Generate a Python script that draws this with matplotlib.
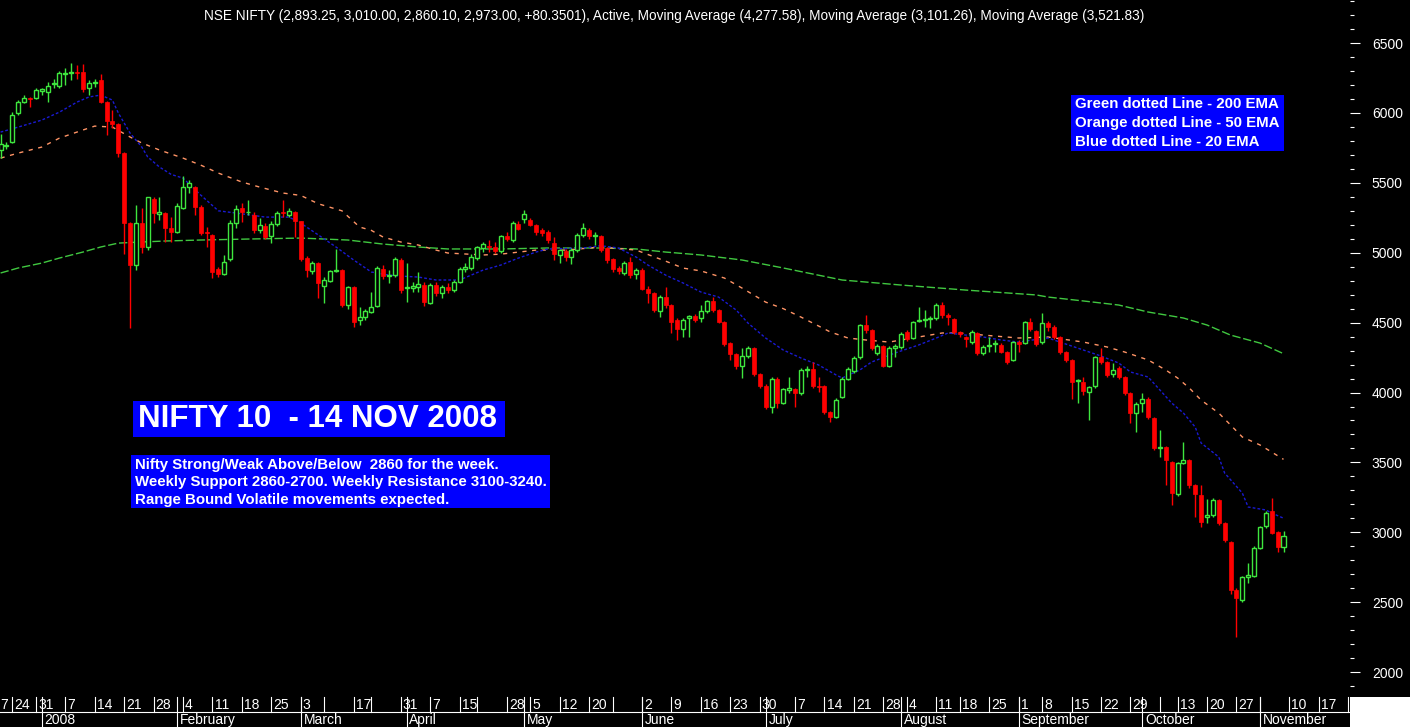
import matplotlib
matplotlib.use("Agg")
import matplotlib.pyplot as plt
from matplotlib.lines import Line2D
from matplotlib.patches import Rectangle
from matplotlib.transforms import blended_transform_factory
from matplotlib.ticker import MultipleLocator

plt.rcParams['font.family'] = ['Liberation Sans', 'DejaVu Sans']

# NSE NIFTY daily candles, 19 Dec 2007 .. 7 Nov 2008 (one entry per trading day)
opens = [5735, 5765, 5790, 5999, 6078, 6110, 6106, 6160, 6150, 6205,
         6193, 6280, 6285, 6295, 6293, 6178, 6215, 6235, 6078, 5942,
         5921, 5713, 5213, 4912, 5213, 5040, 5384, 5280, 5284, 5177,
         5150, 5320, 5470, 5470, 5327, 5145, 5127, 4883, 4848, 4955,
         5213, 5320, 5288, 5270, 5163, 5191, 5120, 5205, 5290, 5270,
         5290, 5227, 4962, 4870, 4926, 4762, 4798, 4872, 4876, 4626,
         4755, 4519, 4540, 4576, 4619, 4883, 4835, 4840, 4948, 4750,
         4747, 4755, 4769, 4640, 4769, 4712, 4755, 4733, 4790, 4883,
         4891, 4962, 5034, 5050, 5041, 5012, 5120, 5091, 5205, 5241,
         5234, 5198, 5160, 5148, 5069, 4984, 5012, 4969, 5019, 5127,
         5162, 5120, 5120, 5034, 4955, 4890, 4855, 4933, 4850, 4876,
         4740, 4712, 4583, 4683, 4626, 4519, 4455, 4530, 4545, 4533,
         4580, 4655, 4590, 4505, 4354, 4275, 4190, 4261, 4318, 4132,
         4047, 3896, 4096, 3925, 4018, 4025, 3996, 4161, 4168, 4050,
         4047, 3861, 3825, 3968, 4096, 4154, 4254, 4483, 4447, 4283,
         4333, 4190, 4318, 4325, 4433, 4390, 4512, 4520, 4526, 4533,
         4626, 4555, 4526, 4430, 4397, 4361, 4426, 4283, 4330, 4350,
         4340, 4290, 4233, 4360, 4354, 4505, 4440, 4361, 4497, 4469,
         4397, 4290, 4233, 4082, 4075, 4002, 4047, 4254, 4218, 4133,
         4175, 4110, 3996, 3853, 3925, 3954, 3818, 3603, 3610, 3503,
         3274, 3496, 3518, 3338, 3267, 3110, 3124, 3231, 3066, 2932,
         2587, 2516, 2680, 2690, 2888, 3045, 3152, 3002, 2893.25]
highs = [5850, 5790, 6006, 6090, 6125, 6114, 6175, 6180, 6221, 6242,
         6300, 6321, 6357, 6340, 6350, 6235, 6240, 6278, 6085, 6021,
         5930, 5720, 5220, 5340, 5320, 5400, 5400, 5398, 5290, 5255,
         5355, 5549, 5520, 5480, 5340, 5184, 5135, 4900, 4984, 5234,
         5340, 5355, 5377, 5290, 5245, 5215, 5225, 5300, 5377, 5320,
         5300, 5230, 4980, 4940, 4935, 4826, 4880, 5026, 4885, 4765,
         4760, 4612, 4595, 4719, 4905, 4912, 4876, 4969, 4960, 4930,
         4790, 4862, 4790, 4780, 4790, 4770, 4780, 4805, 4900, 4925,
         4990, 5050, 5077, 5090, 5077, 5130, 5145, 5225, 5230, 5305,
         5250, 5205, 5175, 5160, 5110, 5030, 5030, 5035, 5140, 5210,
         5177, 5148, 5130, 5040, 4960, 4905, 4940, 4969, 4890, 4890,
         4760, 4720, 4697, 4755, 4630, 4530, 4530, 4555, 4560, 4626,
         4665, 4683, 4600, 4510, 4360, 4285, 4318, 4330, 4325, 4140,
         4060, 4110, 4110, 4035, 4110, 4035, 4175, 4190, 4218, 4110,
         4055, 3870, 3960, 4110, 4180, 4260, 4490, 4555, 4455, 4350,
         4340, 4330, 4345, 4430, 4445, 4515, 4612, 4590, 4545, 4640,
         4648, 4570, 4535, 4440, 4405, 4445, 4435, 4340, 4397, 4376,
         4355, 4300, 4370, 4376, 4515, 4530, 4450, 4569, 4510, 4480,
         4405, 4300, 4240, 4100, 4110, 4045, 4260, 4318, 4225, 4211,
         4190, 4118, 4005, 3930, 3996, 3968, 3825, 3732, 3620, 3510,
         3505, 3646, 3525, 3345, 3338, 3238, 3245, 3240, 3075, 2940,
         2600, 2690, 2780, 2900, 3045, 3150, 3245, 3010, 3010]
lows = [5680, 5745, 5785, 5985, 6070, 6042, 6100, 6130, 6078, 6178,
        6180, 6200, 6235, 6240, 6150, 6128, 6185, 6070, 5842, 5892,
        5685, 4990, 4461, 4880, 4998, 5020, 5210, 5234, 5077, 5077,
        5140, 5310, 5427, 5270, 5127, 5041, 4819, 4830, 4840, 4940,
        5180, 5220, 5270, 5140, 5140, 5100, 5069, 5190, 5255, 5255,
        5112, 4940, 4830, 4850, 4676, 4640, 4790, 4862, 4615, 4600,
        4468, 4483, 4520, 4568, 4610, 4815, 4783, 4830, 4710, 4650,
        4720, 4720, 4620, 4630, 4690, 4676, 4715, 4720, 4780, 4860,
        4880, 4950, 5005, 5005, 5000, 5000, 5085, 5080, 5160, 5213,
        5190, 5130, 5120, 5070, 4950, 4926, 4940, 4920, 5005, 5115,
        5100, 5055, 5005, 4930, 4860, 4850, 4840, 4820, 4815, 4730,
        4640, 4575, 4540, 4605, 4426, 4376, 4397, 4397, 4505, 4505,
        4570, 4575, 4495, 4335, 4233, 4170, 4104, 4250, 4120, 4030,
        3880, 3853, 3890, 3915, 4000, 3896, 3985, 4110, 4030, 4005,
        3850, 3790, 3815, 3960, 4090, 4140, 4240, 4425, 4305, 4270,
        4180, 4180, 4254, 4310, 4370, 4380, 4505, 4469, 4462, 4520,
        4533, 4483, 4420, 4397, 4326, 4350, 4270, 4270, 4290, 4290,
        4280, 4205, 4225, 4290, 4345, 4440, 4335, 4350, 4440, 4380,
        4275, 4215, 3953, 3925, 3982, 3803, 4030, 4205, 4110, 4110,
        4095, 3985, 3782, 3718, 3860, 3810, 3590, 3539, 3338, 3195,
        3260, 3490, 3320, 3110, 3038, 3066, 3110, 3050, 2930, 2560,
        2252, 2500, 2640, 2680, 2880, 3030, 2990, 2859, 2860.1]
closes = [5777, 5770, 5985, 6078, 6106, 6100, 6164, 6168, 6193, 6214,
          6285, 6287, 6293, 6287, 6171, 6214, 6222, 6078, 5942, 5921,
          5713, 5213, 4912, 5213, 5040, 5398, 5284, 5290, 5177, 5148,
          5334, 5470, 5499, 5327, 5141, 5141, 4862, 4848, 4934, 5213,
          5313, 5291, 5295, 5163, 5198, 5112, 5205, 5284, 5282, 5299,
          5227, 4955, 4876, 4926, 4784, 4805, 4869, 4878, 4626, 4755,
          4504, 4540, 4583, 4612, 4890, 4833, 4840, 4955, 4733, 4755,
          4762, 4776, 4647, 4769, 4712, 4755, 4733, 4790, 4883, 4898,
          4969, 5041, 5062, 5041, 5012, 5120, 5098, 5213, 5170, 5277,
          5198, 5148, 5141, 5091, 4991, 5019, 4969, 5019, 5127, 5177,
          5120, 5127, 5019, 4948, 4883, 4869, 4926, 4840, 4876, 4740,
          4712, 4590, 4683, 4626, 4505, 4455, 4519, 4545, 4519, 4583,
          4655, 4590, 4505, 4347, 4275, 4190, 4261, 4318, 4132, 4047,
          3896, 4096, 3925, 4025, 4032, 3996, 4161, 4168, 4047, 4040,
          3861, 3825, 3946, 4096, 4168, 4247, 4483, 4447, 4318, 4333,
          4190, 4318, 4333, 4419, 4383, 4505, 4519, 4526, 4533, 4626,
          4555, 4540, 4433, 4420, 4383, 4433, 4283, 4326, 4340, 4354,
          4290, 4218, 4361, 4350, 4505, 4455, 4350, 4497, 4469, 4397,
          4290, 4233, 4075, 4090, 4010, 4040, 4254, 4218, 4125, 4161,
          4110, 3996, 3853, 3918, 3954, 3825, 3603, 3610, 3517, 3281,
          3496, 3518, 3338, 3274, 3074, 3124, 3231, 3066, 2945, 2587,
          2530, 2680, 2695, 2888, 3038, 3138, 2995, 2895, 2973]

# moving averages: trading-day index and value
ema200_day = [0, 3, 7, 10, 14, 17, 20, 24, 28, 34, 42, 51, 59, 65, 71, 76, 85,
              93, 102, 108, 113, 119, 126, 133, 143, 153, 164, 176, 178, 184,
              190, 195, 201, 205, 209, 214, 218]
ema200 = [4855, 4891, 4926, 4962, 5005, 5041, 5069, 5077, 5084, 5091, 5098,
          5105, 5091, 5062, 5041, 5027, 5027, 5034, 5034, 5027, 5005, 4984,
          4948, 4891, 4805, 4769, 4733, 4698, 4683, 4655, 4626, 4576, 4533,
          4483, 4411, 4354, 4278]
ema50_day = [0, 3, 7, 10, 14, 16, 19, 22, 24, 27, 31, 34, 37, 41, 44, 48, 51,
             54, 58, 61, 63, 65, 68, 71, 74, 76, 82, 85, 91, 96, 102, 108, 113,
             116, 119, 123, 126, 130, 133, 136, 141, 144, 147, 151, 155, 160,
             163, 167, 173, 178, 184, 188, 191, 195, 198, 200, 202, 204, 207,
             209, 211, 214, 216, 218]
ema50 = [5677, 5713, 5756, 5820, 5878, 5906, 5899, 5828, 5785, 5735, 5677,
         5627, 5570, 5506, 5470, 5427, 5410, 5350, 5300, 5184, 5160, 5112,
         5077, 5055, 5019, 4998, 4984, 4990, 5019, 5019, 5041, 5019, 4940,
         4890, 4870, 4819, 4747, 4647, 4600, 4540, 4433, 4390, 4376, 4361,
         4390, 4426, 4426, 4411, 4390, 4397, 4361, 4326, 4290, 4233, 4161,
         4104, 4032, 3946, 3853, 3768, 3682, 3625, 3574, 3522]
ema20_day = [0, 3, 7, 10, 13, 15, 17, 19, 20, 22, 24, 25, 27, 29, 31, 34, 37,
             40, 45, 49, 51, 54, 57, 60, 63, 66, 68, 71, 74, 78, 82, 85, 88,
             91, 93, 99, 102, 105, 108, 110, 113, 116, 119, 122, 125, 127, 130,
             133, 136, 139, 142, 143, 146, 148, 152, 156, 159, 161, 164, 167,
             170, 173, 176, 178, 184, 187, 190, 192, 195, 197, 199, 201, 203,
             204, 207, 208, 211, 212, 215, 216, 218]
ema20 = [5863, 5899, 5949, 6006, 6078, 6114, 6128, 6092, 6000, 5856, 5756,
         5685, 5613, 5560, 5534, 5413, 5300, 5284, 5255, 5255, 5212, 5127,
         5041, 4948, 4862, 4840, 4833, 4826, 4805, 4805, 4876, 4912, 4962,
         5005, 5027, 5034, 5050, 5034, 4969, 4912, 4840, 4783, 4719, 4683,
         4590, 4497, 4390, 4304, 4247, 4197, 4125, 4104, 4161, 4218, 4283,
         4340, 4390, 4426, 4411, 4397, 4376, 4361, 4380, 4390, 4304, 4261,
         4211, 4147, 4111, 4018, 3925, 3853, 3753, 3639, 3539, 3424, 3281,
         3181, 3160, 3138, 3101]

# x axis: first trading day of each week, and of each month
week_day = [2, 6, 11, 16, 21, 26, 31, 36, 41, 46, 51, 55, 60, 63, 68, 73, 78,
            81, 86, 90, 95, 100, 104, 109, 114, 119, 124, 129, 135, 140, 145,
            150, 154, 159, 163, 168, 173, 177, 182, 187, 192, 197, 200, 205,
            210, 214, 219, 224, 229]
week_lbl = ['24', '31', '7', '14', '21', '28', '4', '11', '18', '25', '3', '',
            '17', '', '31', '7', '15', '', '28', '5', '12', '20', '', '2', '9',
            '16', '23', '30', '7', '14', '21', '28', '4', '11', '18', '25', '1',
            '8', '15', '22', '29', '', '13', '20', '27', '', '10', '17', '24']
month_day = [7, 30, 51, 69, 89, 109, 130, 153, 173, 194, 214]
month_lbl = ['2008', 'February', 'March', 'April', 'May', 'June', 'July',
             'August', 'September', 'October', 'November']

title = ('NSE NIFTY (2,893.25, 3,010.00, 2,860.10, 2,973.00, +80.3501), Active, '
         'Moving Average (4,277.58), Moving Average (3,101.26), Moving Average (3,521.83)')

W, H = 1410, 727
GREEN = '#3ee63e'
RED = '#ff0000'


def fx(x):
    return x / W


def fy(y):
    return 1 - y / H


fig = plt.figure(figsize=(W / 100, H / 100), dpi=100, facecolor='black')
ax = fig.add_axes([0, fy(697), fx(1350), 697 / H])
ax.set_facecolor('black')
ax.set_xlim(-0.1, 229.3)
ax.set_ylim(1822, 6808)

# moving averages under the candles
ax.plot(ema200_day, ema200, color='#40c840', lw=1, dashes=(6, 2), zorder=1)
ax.plot(ema50_day, ema50, color='#ff9466', lw=1, dashes=(3, 4), zorder=1)
ax.plot(ema20_day, ema20, color='#1a1ad2', lw=1, dashes=(2, 1.5), zorder=1)

w = 0.68
for i in range(len(closes)):
    o, h, l, c = opens[i], highs[i], lows[i], closes[i]
    lo, hi = min(o, c), max(o, c)
    body = max(hi - lo, 7)
    if c >= o:
        ax.vlines(i, hi, h, color=GREEN, lw=1, zorder=2)
        ax.vlines(i, l, lo, color=GREEN, lw=1, zorder=2)
        ax.add_patch(Rectangle((i - w / 2, lo), w, body, facecolor='black',
                               edgecolor=GREEN, lw=1, zorder=3))
    else:
        ax.vlines(i, l, h, color=RED, lw=1, zorder=2)
        ax.add_patch(Rectangle((i - w / 2, lo), w, body, facecolor=RED,
                               edgecolor=RED, lw=0.5, zorder=3))

# price scale on the right
ax.yaxis.tick_right()
ax.yaxis.set_major_locator(MultipleLocator(500))
ax.yaxis.set_minor_locator(MultipleLocator(100))
ax.tick_params(axis='y', which='major', colors='white', length=7.2, width=0.8,
               pad=8.5, labelsize=10)
ax.tick_params(axis='y', which='minor', colors='white', length=3, width=0.8)
ax.set_xticks([])
for s in ax.spines.values():
    s.set_visible(False)

# date rows under the chart
trans = blended_transform_factory(ax.transData, fig.transFigure)
for d, lbl in zip(week_day, week_lbl):
    fig.add_artist(Line2D([d, d], [fy(697), fy(712)], transform=trans,
                          color='white', lw=0.8))
    if lbl:
        ax.annotate(lbl, (d, fy(705)), xycoords=trans, xytext=(1.5, 0),
                    textcoords='offset points', color='white', fontsize=10,
                    va='center', ha='left', annotation_clip=False)
# tail of the 17 Dec label, cut by the left edge in the original
fig.text(fx(0), fy(705), '7', color='white', fontsize=10, va='center', ha='left')
for d, lbl in zip(month_day, month_lbl):
    fig.add_artist(Line2D([d, d], [fy(697), fy(727)], transform=trans,
                          color='white', lw=0.8))
    ax.annotate(lbl, (d, fy(720)), xycoords=trans, xytext=(2, 0),
                textcoords='offset points', color='white', fontsize=10,
                va='center', ha='left', annotation_clip=False)
fig.add_artist(Line2D([0, fx(1350)], [fy(712), fy(712)],
                      transform=fig.transFigure, color='white', lw=0.8))
fig.add_artist(Rectangle((fx(1350), 0), 1 - fx(1350), fy(697),
                         transform=fig.transFigure, facecolor='white',
                         edgecolor='none', zorder=10))

fig.text(fx(674), fy(16), title, color='white', fontsize=9.85,
         ha='center', va='center')


def blue_box(x0, y0, x1, y1):
    fig.add_artist(Rectangle((fx(x0), fy(y1)), fx(x1) - fx(x0), fy(y0) - fy(y1),
                             transform=fig.transFigure, facecolor='#0000ff',
                             edgecolor='none', zorder=5))


blue_box(1071, 95, 1284, 151)
for y, s in zip([104, 123, 142], ['Green dotted Line - 200 EMA',
                                  'Orange dotted Line - 50 EMA',
                                  'Blue dotted Line - 20 EMA']):
    fig.text(fx(1075), fy(y), s, color='white', fontsize=10.8,
             fontweight='bold', va='center', ha='left', zorder=6)

blue_box(133, 401, 505, 437)
fig.text(fx(138), fy(419), 'NIFTY 10  - 14 NOV 2008', color='white',
         fontsize=22.5, fontweight='bold', va='center', ha='left', zorder=6)

blue_box(131, 455, 550, 508)
for y, s in zip([465, 482, 500],
                ['Nifty Strong/Weak Above/Below  2860 for the week.',
                 'Weekly Support 2860-2700. Weekly Resistance 3100-3240.',
                 'Range Bound Volatile movements expected.']):
    fig.text(fx(135), fy(y), s, color='white', fontsize=10.8,
             fontweight='bold', va='center', ha='left', zorder=6)

fig.savefig('out.png', dpi=100, facecolor='black')
